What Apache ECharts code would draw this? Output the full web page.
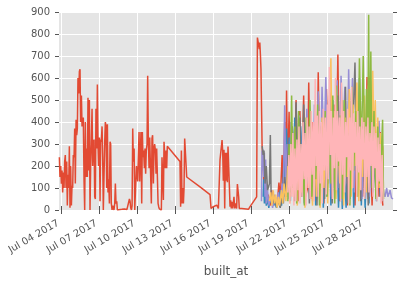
<!DOCTYPE html>
<html>
<head>
<meta charset="utf-8">
<script src="https://cdn.jsdelivr.net/npm/echarts@6/dist/echarts.min.js"></script>
<style>html,body{margin:0;padding:0;background:#fff}#c{width:399px;height:283px}</style>
</head>
<body>
<div id="c"></div>
<script>
// x values are days of July 2017 (4.5 = Jul 04 12:00)
const tickDays = [4, 7, 10, 13, 16, 19, 22, 25, 28];
const tickLabels = ['Jul 04 2017','Jul 07 2017','Jul 10 2017','Jul 13 2017','Jul 16 2017','Jul 19 2017','Jul 22 2017','Jul 25 2017','Jul 28 2017'];
const yTicks = [0,100,200,300,400,500,600,700,800,900];

const redBuilds = [
[3.87,240],[3.92,150],[3.98,200],[4.03,120],[4.08,180],[4.13,80],[4.19,170],[4.24,100],[4.29,220],[4.34,250],
[4.40,100],[4.45,220],[4.50,20],[4.55,160],[4.61,100],[4.66,290],[4.71,10],[4.76,200],[4.82,20],[4.87,110],
[4.92,100],[4.97,250],[5.03,240],[5.08,370],[5.13,120],[5.19,410],[5.24,340],[5.29,370],[5.34,600],[5.40,530],
[5.45,630],[5.50,640],[5.55,400],[5.61,520],[5.66,380],[5.71,410],[5.76,420],[5.82,130],[5.87,0],[5.92,400],
[5.97,150],[6.03,280],[6.08,150],[6.13,510],[6.18,180],[6.24,500],[6.29,0],[6.34,200],[6.39,300],[6.45,460],
[6.50,200],[6.55,300],[6.61,320],[6.66,60],[6.71,50],[6.76,460],[6.82,280],[6.87,570],[6.92,300],[6.97,200],
[7.03,330],[7.08,40],[7.13,320],[7.18,310],[7.24,380],[7.29,240],[7.34,0],[7.40,0],[7.45,310],[7.50,400],
[7.55,380],[7.61,100],[7.66,390],[7.71,80],[7.76,140],[7.82,30],[7.87,310],[7.92,300],[7.97,30],[8.03,0],
[8.08,20],[8.13,10],[8.18,0],[8.24,30],[8.29,120],[8.34,30],[8.40,40],[8.45,0],[8.55,5],[8.8,3],
[9.0,5],[9.2,2],[9.35,5],[9.40,50],[9.45,40],[9.50,10],[9.56,0],[9.61,20],[9.66,370],[9.71,220],
[9.77,280],[9.82,0],[9.89,0],[9.95,200],[10.0,200],[10.05,130],[10.16,355],[10.21,130],[10.31,355],[10.37,30],
[10.42,355],[10.47,240],[10.52,270],[10.58,190],[10.63,280],[10.68,165],[10.73,270],[10.79,300],[10.84,610],[10.89,330],
[10.95,190],[11.0,330],[11.05,325],[11.13,30],[11.18,325],[11.23,340],[11.29,120],[11.34,280],[11.39,300],[11.45,270],
[11.50,165],[11.55,280],[11.60,280],[11.66,30],[11.71,15],[11.76,5],[11.81,0],[11.87,5],[11.92,0],[11.97,240],
[12.02,240],[12.08,45],[12.13,310],[12.18,310],[12.23,190],[12.29,270],[12.34,190],[12.39,290],[13.39,220],[13.44,15],
[13.50,270],[13.55,30],[13.60,100],[13.66,30],[13.71,100],[13.76,325],[13.81,330],[13.92,150],[14.97,105],[15.76,70],
[15.84,7],[16.02,15],[16.29,22],[16.42,7],[16.55,230],[16.60,222],[16.65,237],[16.71,318],[16.76,267],[16.81,133],
[16.86,274],[16.92,7],[16.97,260],[17.02,133],[17.08,260],[17.13,126],[17.18,289],[17.23,280],[17.29,104],[17.34,15],
[17.39,44],[17.44,7],[17.50,37],[17.55,7],[17.60,30],[17.65,60],[17.71,7],[17.76,30],[17.86,7],[17.92,118],
[17.97,126],[18.02,60],[18.07,7],[18.13,15],[18.26,7],[18.79,3],[18.92,15],[19.44,60],[19.50,784],[19.55,776],
[19.60,779],[19.65,731],[19.69,761],[19.74,701],[19.78,642],[19.82,634],[19.87,291],[20.05,80],[20.2,30],[20.35,70],
[20.5,20],[20.62,90],[20.75,30],[20.9,60],[21.05,20],[21.2,125],[21.3,40],[21.45,250],[21.55,60],[21.65,400],
[21.72,100],[21.8,543],[21.88,150],[22.0,447],[22.1,60],[22.25,380],[22.4,120],[22.55,500],[22.7,40],[22.85,450],
[23.0,150],[23.15,520],[23.3,60],[23.45,100],[23.55,580],[23.7,50],[23.85,400],[24.0,150],[24.1,350],[24.2,150],
[24.3,626],[24.45,80],[24.6,450],[24.75,30],[24.95,550],[25.1,200],[25.25,600],[25.4,60],[25.55,480],[25.7,150],
[25.85,707],[26.0,40],[26.15,500],[26.3,120],[26.45,420],[26.6,20],[26.75,550],[26.9,100],[27.05,380],[27.2,20],
[27.35,480],[27.5,150],[27.65,350],[27.8,60],[27.95,420],[28.05,100],[28.15,605],[28.25,50],[28.4,300],[28.55,20],
[28.7,350],[28.85,120],[29.0,300],[29.1,60],[29.2,355],[29.3,80],[29.4,20]
];

const blueBuilds = [
[19.95,60],[20.0,140],[20.05,30],[20.12,155],[20.2,20],[20.3,50],[20.4,10],[20.5,60],[20.6,30],[20.7,70],
[20.8,20],[20.9,50],[21.0,10],[21.1,60],[21.2,40],[21.3,90],[21.4,20],[21.5,80],[21.6,250],[21.7,60],
[21.8,370],[21.9,120],[22.0,330],[22.1,40],[22.2,280],[22.3,150],[22.45,420],[22.6,80],[22.75,330],[22.9,200],
[23.05,380],[23.2,30],[23.35,300],[23.5,120],[23.65,440],[23.8,60],[23.95,350],[24.1,20],[24.25,410],[24.4,100],
[24.55,300],[24.7,10],[24.85,260],[25.0,60],[25.15,380],[25.3,20],[25.45,500],[25.6,90],[25.75,320],[25.9,10],
[26.05,280],[26.2,5],[26.35,200],[26.5,10],[26.65,340],[26.8,50],[26.95,420],[27.1,10],[27.25,380],[27.4,120],
[27.55,600],[27.7,20],[27.85,300],[28.0,10],[28.15,250],[28.3,30],[28.45,350],[28.6,80],[28.75,240],[28.9,40],
[29.05,300],[29.2,60],[29.35,150]
];

const purpleBuilds = [
[19.82,40],[19.86,270],[19.9,180],[19.95,275],[20.0,150],[20.05,260],[20.1,60],[20.15,230],[20.2,30],[20.3,90],
[20.4,20],[20.55,60],[20.7,10],[20.85,70],[21.0,20],[21.15,80],[21.3,30],[21.45,120],[21.55,60],[21.65,476],
[21.75,100],[21.85,300],[22.0,50],[22.15,400],[22.3,140],[22.5,350],[22.65,30],[22.8,430],[22.95,180],[23.1,380],
[23.25,60],[23.4,460],[23.55,150],[23.7,320],[23.85,40],[24.0,480],[24.15,200],[24.3,540],[24.45,80],[24.6,560],
[24.75,250],[24.9,605],[25.05,150],[25.2,520],[25.35,60],[25.5,450],[25.65,200],[25.8,590],[25.95,100],[26.1,610],
[26.25,300],[26.4,560],[26.55,120],[26.7,640],[26.85,250],[27.0,600],[27.15,80],[27.3,550],[27.45,200],[27.6,480],
[27.75,50],[27.9,420],[28.05,150],[28.2,380],[28.35,60],[28.5,320],[28.65,100],[28.8,300],[28.95,200],[29.1,405],
[29.25,150],[29.35,300],[29.41,100],[29.5,70],[29.57,60],[29.7,100],[29.8,60],[29.97,90],[30.08,55],[30.2,50]
];

const grayBuilds = [
[19.88,290],[19.95,250],[20.02,270],[20.1,120],[20.2,200],[20.3,90],[20.45,120],[20.52,341],[20.58,70],[20.7,30],
[20.85,50],[21.0,15],[21.15,40],[21.3,10],[21.45,60],[21.55,30],[21.65,150],[21.8,60],[21.95,300],[22.1,100],
[22.25,380],[22.4,40],[22.55,490],[22.7,150],[22.85,420],[23.0,60],[23.15,480],[23.3,200],[23.45,350],[23.6,30],
[23.75,400],[23.9,120],[24.05,300],[24.2,20],[24.35,450],[24.5,160],[24.65,380],[24.8,50],[24.95,330],[25.1,120],
[25.25,500],[25.4,30],[25.55,420],[25.7,180],[25.85,520],[26.0,60],[26.15,380],[26.3,150],[26.45,560],[26.6,30],
[26.75,460],[26.9,200],[27.05,400],[27.2,670],[27.35,100],[27.5,450],[27.65,40],[27.8,380],[27.95,130],[28.1,320],
[28.25,20],[28.4,447],[28.55,150],[28.7,380],[28.85,60],[29.0,350],[29.15,100],[29.3,280],[29.4,40]
];

const yellowBuilds = [
[20.45,40],[20.55,80],[20.65,20],[20.75,90],[20.85,30],[20.95,70],[21.05,10],[21.15,60],[21.25,20],[21.4,90],
[21.5,30],[21.6,120],[21.75,40],[21.9,200],[22.05,30],[22.2,260],[22.35,60],[22.5,180],[22.65,20],[22.8,300],
[22.95,80],[23.1,250],[23.25,10],[23.4,350],[23.55,100],[23.7,220],[23.85,20],[24.0,380],[24.15,60],[24.3,300],
[24.45,10],[24.6,420],[24.75,100],[24.9,350],[25.05,30],[25.2,520],[25.3,690],[25.4,200],[25.55,450],[25.7,50],
[25.85,380],[26.0,120],[26.15,500],[26.3,20],[26.45,420],[26.6,150],[26.75,550],[26.9,60],[27.05,480],[27.2,200],
[27.35,580],[27.5,40],[27.65,450],[27.8,150],[27.95,520],[28.1,80],[28.25,560],[28.4,610],[28.5,250],[28.6,633],
[28.7,300],[28.8,500],[28.9,150],[29.0,420],[29.1,100],[29.2,350],[29.3,80],[29.4,290],[29.45,60]
];

const greenBuilds = [
[21.9,40],[22.0,300],[22.1,80],[22.2,520],[22.3,100],[22.45,380],[22.6,30],[22.75,450],[22.9,120],[23.05,300],
[23.2,20],[23.35,420],[23.5,180],[23.65,500],[23.8,60],[23.95,330],[24.1,140],[24.25,480],[24.4,20],[24.55,380],
[24.7,200],[24.85,450],[25.0,60],[25.15,300],[25.3,120],[25.45,520],[25.6,30],[25.75,566],[25.9,200],[26.05,430],
[26.2,50],[26.35,500],[26.5,150],[26.65,350],[26.8,20],[26.95,560],[27.1,180],[27.25,450],[27.4,60],[27.55,690],
[27.7,250],[27.85,700],[28.0,100],[28.1,550],[28.2,200],[28.28,887],[28.34,150],[28.45,720],[28.55,100],[28.7,450],
[28.85,50],[29.0,380],[29.15,120],[29.3,290],[29.38,410],[29.45,50]
];

const pinkBuilds = [
[21.9,80],[21.98,250],[22.06,30],[22.14,300],[22.22,60],[22.3,350],[22.38,20],[22.46,280],[22.54,40],[22.62,320],
[22.7,90],[22.78,380],[22.86,30],[22.94,300],[23.02,60],[23.1,400],[23.18,140],[23.26,350],[23.34,20],[23.42,420],
[23.5,100],[23.58,380],[23.66,50],[23.74,450],[23.82,160],[23.9,400],[23.98,40],[24.06,596],[24.14,200],[24.22,430],
[24.3,60],[24.38,450],[24.46,120],[24.54,400],[24.62,30],[24.7,460],[24.78,180],[24.86,420],[24.94,70],[25.02,480],
[25.1,140],[25.18,650],[25.26,250],[25.34,450],[25.42,50],[25.5,420],[25.58,190],[25.66,600],[25.74,90],[25.82,450],
[25.9,220],[25.98,420],[26.06,40],[26.14,580],[26.22,160],[26.3,450],[26.38,80],[26.46,400],[26.54,240],[26.62,460],
[26.7,30],[26.78,420],[26.86,180],[26.94,560],[27.02,100],[27.1,440],[27.18,260],[27.26,400],[27.34,60],[27.42,450],
[27.5,170],[27.58,380],[27.66,90],[27.74,420],[27.82,230],[27.9,400],[27.98,50],[28.06,380],[28.14,150],[28.22,420],
[28.3,80],[28.38,350],[28.46,200],[28.54,400],[28.62,60],[28.7,380],[28.78,190],[28.86,350],[28.94,40],[29.02,330],
[29.1,130],[29.18,300],[29.26,30],[29.34,250],[29.42,40]
];

const seriesList = [
  {name:'red', color:'#E24A33', data:redBuilds},
  {name:'blue', color:'#348ABD', data:blueBuilds},
  {name:'purple', color:'#988ED5', data:purpleBuilds},
  {name:'gray', color:'#777777', data:grayBuilds},
  {name:'yellow', color:'#FBC15E', data:yellowBuilds},
  {name:'green', color:'#8EBA42', data:greenBuilds},
  {name:'pink', color:'#FFB5B8', data:pinkBuilds}
];

const XMIN = 3.842, XMAX = 30.2;
const font = 'DejaVu Sans';
const chart = echarts.init(document.getElementById('c'), null, {renderer:'canvas'});
chart.setOption({
  animation:false,
  grid:{left:59, right:6, top:12, bottom:70, show:true, backgroundColor:'#E5E5E5', borderWidth:0},
  xAxis:[{
    type:'value', min:XMIN, max:XMAX, position:'bottom',
    axisLine:{show:false},
    axisTick:{show:true, customValues:tickDays, length:4, lineStyle:{color:'#555555', width:1}},
    axisLabel:{customValues:tickDays, rotate:30, color:'#555555', fontSize:10, fontFamily:font, margin:11,
      padding:[0,3,0,0],
      formatter:function(v){ const i = tickDays.indexOf(Math.round(v)); return i>=0 ? tickLabels[i] : ''; }},
    splitLine:{show:true, lineStyle:{color:'#FFFFFF', width:1}},
    name:'built_at', nameLocation:'middle', nameGap:56,
    nameTextStyle:{fontSize:12, color:'#555555', fontFamily:font}
  },{
    type:'value', min:XMIN, max:XMAX, position:'top',
    axisLine:{show:false},
    axisTick:{show:true, customValues:tickDays, length:4, lineStyle:{color:'#555555', width:1}},
    axisLabel:{show:false}, splitLine:{show:false}
  }],
  yAxis:[{
    type:'value', min:0, max:900, interval:100,
    axisLine:{show:false},
    axisTick:{show:true, length:4, lineStyle:{color:'#555555', width:1}},
    axisLabel:{color:'#555555', fontSize:10, fontFamily:font, margin:9,
      formatter:function(v){ return yTicks.indexOf(v)>=0 ? String(v) : ''; }},
    splitLine:{show:true, lineStyle:{color:'#FFFFFF', width:1}}
  },{
    type:'value', min:0, max:900, interval:100, position:'right',
    axisLine:{show:false},
    axisTick:{show:true, length:4, lineStyle:{color:'#555555', width:1}},
    axisLabel:{show:false}, splitLine:{show:false}
  }],
  series: seriesList.map(s => ({
    name:s.name, type:'line', data:s.data, showSymbol:false, symbol:'none',
    xAxisIndex:0, yAxisIndex:0,
    lineStyle:{color:s.color, width:1.5}, itemStyle:{color:s.color},
    clip:true
  }))
});
</script>
</body>
</html>
